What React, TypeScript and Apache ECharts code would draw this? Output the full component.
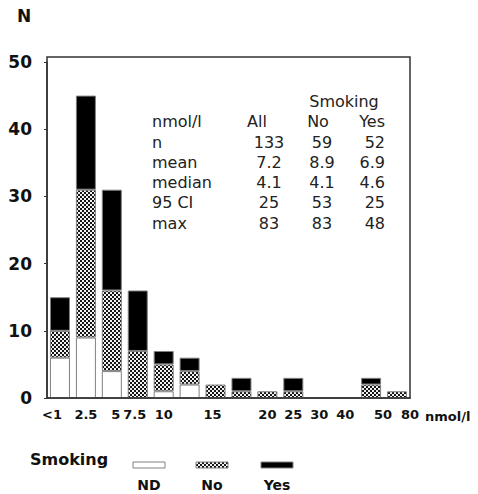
import React, { useEffect, useRef } from 'react';
import * as echarts from 'echarts';

// Concentration bins (nmol/l) and the tick text printed under each bin
const binTicks = ['<1', '2.5', '5', '7.5', '10', '', '15', '', '20', '25', '30', '40', '50', '80'];

// Counts per bin, stacked bottom-to-top: ND, No, Yes
const countND = [6, 9, 4, 0, 1, 2, 0, 0, 0, 0, 0, 0, 0, 0];
const countNo = [4, 22, 12, 7, 4, 2, 2, 1, 1, 1, 0, 0, 2, 1];
const countYes = [5, 14, 15, 9, 2, 2, 0, 2, 0, 2, 0, 0, 1, 0];

// Summary table
const statHeaders = ['nmol/l', 'All', 'No', 'Yes'];
const statLabels = ['n', 'mean', 'median', '95 CI', 'max'];
const statAll = ['133', '7.2', '4.1', '25', '83'];
const statNo = ['59', '8.9', '4.1', '53', '83'];
const statYes = ['52', '6.9', '4.6', '25', '48'];

const legendNames = ['ND', 'No', 'Yes'];

const FONT = 'DejaVu Sans';

function makeChecker(): HTMLCanvasElement {
  const c = document.createElement('canvas');
  c.width = 4;
  c.height = 4;
  const ctx = c.getContext('2d')!;
  ctx.fillStyle = '#f2f2f2';
  ctx.fillRect(0, 0, 4, 4);
  ctx.fillStyle = '#151515';
  ctx.fillRect(0, 0, 2, 2);
  ctx.fillRect(2, 2, 2, 2);
  return c;
}

export default function App() {
  const ref = useRef<HTMLDivElement>(null);

  useEffect(() => {
    if (!ref.current) return;
    const chart = echarts.init(ref.current, null, { renderer: 'svg' });
    const checker = makeChecker();
    const pattern: any = { image: checker, repeat: 'repeat', imageWidth: 4, imageHeight: 4 };

    const nz = (a: number[]) => a.map((v) => (v === 0 ? null : v));

    const gridLeft = 47;
    const gridRight = 68;
    const gridTop = 62;
    const gridBottom = 96;
    const W = 478;
    const H = 494;
    const frameTop = 57;

    // horizontal nudges for a few tick texts
    const shift: Record<number, string> = { 0: 'l2', 2: 'r1', 3: 'l1', 6: 'l1', 12: 'r2', 13: 'r3' };
    const tickFont = { fontFamily: FONT, fontWeight: 'bold' as const, fontSize: 13, color: '#111' };

    const barBase = {
      type: 'bar' as const,
      stack: 'total',
      barWidth: 20,
      itemStyle: { borderColor: '#808080', borderWidth: 1 },
      emphasis: { disabled: true },
    };

    const rowY = (i: number) => 142 + i * 20.3;
    const tableText = (text: string, x: number, y: number, align: string) => ({
      type: 'text',
      x,
      y,
      style: { text, fill: '#222', font: `16px "${FONT}"`, align, verticalAlign: 'middle' },
    });

    const table: any[] = [
      tableText('Smoking', 344, 101, 'center'),
      tableText(statHeaders[0], 152, 121, 'left'),
      tableText(statHeaders[1], 247, 121, 'left'),
      tableText(statHeaders[2], 318, 121, 'center'),
      tableText(statHeaders[3], 385, 121, 'right'),
    ];
    statLabels.forEach((lab, i) => {
      table.push(tableText(lab, 152, rowY(i), 'left'));
      table.push(tableText(statAll[i], 269, rowY(i), 'center'));
      table.push(tableText(statNo[i], 322, rowY(i), 'center'));
      table.push(tableText(statYes[i], 385, rowY(i), 'right'));
    });

    const legendFills: any[] = ['#ffffff', pattern, '#000000'];
    const legendX = [133, 196, 261];
    const legend: any[] = [
      {
        type: 'text',
        x: 30,
        y: 459,
        style: { text: 'Smoking', fill: '#111', font: `bold 16px "${FONT}"`, align: 'left', verticalAlign: 'middle' },
      },
    ];
    legendNames.forEach((name, i) => {
      legend.push({
        type: 'rect',
        shape: { x: legendX[i], y: 462, width: 32, height: 6 },
        style: { fill: legendFills[i], stroke: '#808080', lineWidth: 1 },
      });
      legend.push({
        type: 'text',
        x: legendX[i] + 16,
        y: 485,
        style: { text: name, fill: '#111', font: `bold 14px "${FONT}"`, align: 'center', verticalAlign: 'middle' },
      });
    });

    chart.setOption({
      animation: false,
      grid: {
        left: gridLeft,
        right: gridRight,
        top: gridTop,
        bottom: gridBottom,
        containLabel: false,
        outerBoundsMode: 'none',
      },
      xAxis: {
        type: 'category',
        data: binTicks.map((_, i) => String(i)),
        axisLine: { lineStyle: { color: '#333', width: 1.5 } },
        axisTick: { show: false },
        axisLabel: {
          interval: 0,
          margin: 10,
          ...tickFont,
          formatter: (v: string) => {
            const i = Number(v);
            const t = binTicks[i];
            return shift[i] ? `{${shift[i]}|${t}}` : t;
          },
          rich: {
            r1: { ...tickFont, padding: [0, 0, 0, 8] },
            r2: { ...tickFont, padding: [0, 0, 0, 24] },
            r3: { ...tickFont, padding: [0, 0, 0, 26] },
            l1: { ...tickFont, padding: [0, 6, 0, 0] },
            l2: { ...tickFont, padding: [0, 16, 0, 0] },
          },
        },
        name: 'nmol/l',
        nameLocation: 'end',
        nameGap: 8,
        nameTextStyle: { ...tickFont, align: 'left', verticalAlign: 'top', lineHeight: 36 },
      },
      yAxis: {
        type: 'value',
        min: 0,
        max: 50,
        interval: 10,
        splitLine: { show: false },
        axisLine: { show: true, lineStyle: { color: '#333', width: 1.5 } },
        axisTick: { show: true, length: 3, lineStyle: { color: '#333' } },
        axisLabel: { margin: 15, fontFamily: FONT, fontWeight: 'bold', fontSize: 17, color: '#111' },
        name: 'N',
        nameLocation: 'end',
        nameGap: 38,
        nameTextStyle: { fontFamily: FONT, fontWeight: 'bold', fontSize: 17, color: '#111', padding: [0, 46, 0, 0] },
      },
      series: [
        { ...barBase, name: 'ND', data: nz(countND), itemStyle: { ...barBase.itemStyle, color: '#ffffff' } },
        { ...barBase, name: 'No', data: nz(countNo), itemStyle: { ...barBase.itemStyle, color: pattern } },
        { ...barBase, name: 'Yes', data: nz(countYes), itemStyle: { ...barBase.itemStyle, color: '#000000' } },
      ],
      graphic: [
        {
          type: 'rect',
          silent: true,
          z: 100,
          shape: { x: gridLeft, y: frameTop, width: W - gridLeft - gridRight, height: H - gridBottom - frameTop },
          style: { fill: 'none', stroke: '#333', lineWidth: 1.5 },
        },
        ...table,
        ...legend,
      ],
    });

    return () => chart.dispose();
  }, []);

  return <div ref={ref} style={{ position: 'fixed', left: 0, top: 0, width: 478, height: 494, background: '#fff' }} />;
}
